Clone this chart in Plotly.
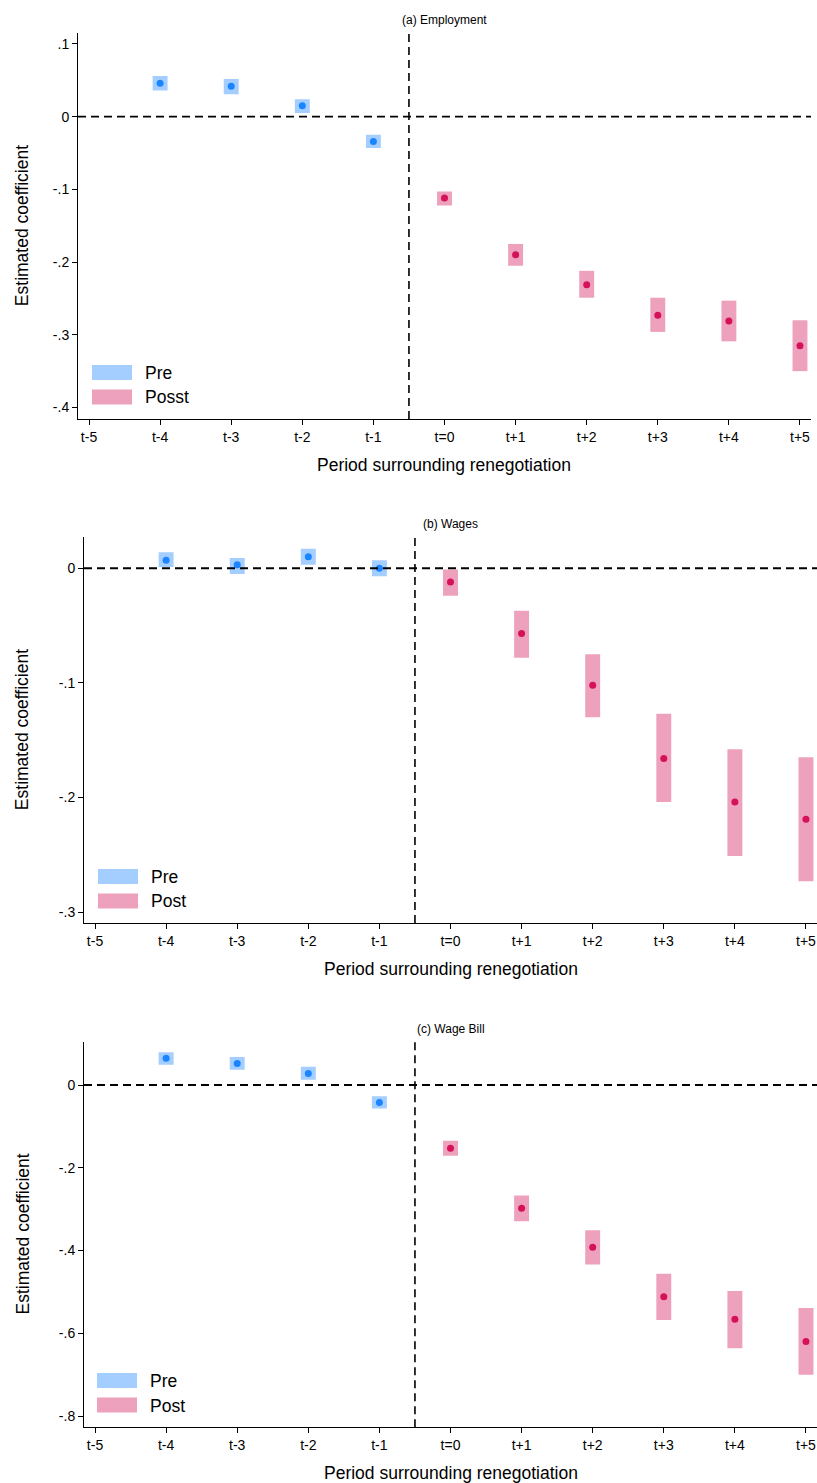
import plotly.graph_objects as go

W, H = 817, 1483

periods = ["t-5", "t-4", "t-3", "t-2", "t-1", "t=0", "t+1", "t+2", "t+3", "t+4", "t+5"]
est_periods = periods[1:]
n_pre = 4

# (a) Employment
emp_coef = [0.046, 0.042, 0.015, -0.034, -0.112, -0.190, -0.231, -0.273, -0.281, -0.315]
emp_lo = [0.036, 0.031, 0.005, -0.043, -0.122, -0.205, -0.249, -0.296, -0.309, -0.350]
emp_hi = [0.056, 0.052, 0.024, -0.025, -0.103, -0.175, -0.212, -0.249, -0.253, -0.280]

# (b) Wages
wage_coef = [0.007, 0.003, 0.010, 0.000, -0.012, -0.057, -0.102, -0.166, -0.204, -0.219]
wage_lo = [0.001, -0.005, 0.003, -0.007, -0.024, -0.078, -0.130, -0.204, -0.251, -0.273]
wage_hi = [0.014, 0.009, 0.017, 0.007, -0.001, -0.037, -0.075, -0.127, -0.158, -0.165]

# (c) Wage Bill
bill_coef = [0.065, 0.052, 0.028, -0.042, -0.153, -0.298, -0.392, -0.512, -0.566, -0.620]
bill_lo = [0.049, 0.037, 0.013, -0.057, -0.171, -0.329, -0.434, -0.568, -0.636, -0.700]
bill_hi = [0.079, 0.068, 0.044, -0.027, -0.135, -0.267, -0.351, -0.456, -0.498, -0.539]

emp_ticks = [0.1, 0, -0.1, -0.2, -0.3, -0.4]
emp_ticktext = [".1", "0", "-.1", "-.2", "-.3", "-.4"]
wage_ticks = [0, -0.1, -0.2, -0.3]
wage_ticktext = ["0", "-.1", "-.2", "-.3"]
bill_ticks = [0, -0.2, -0.4, -0.6, -0.8]
bill_ticktext = ["0", "-.2", "-.4", "-.6", "-.8"]

titles = ["(a) Employment", "(b) Wages", "(c) Wage Bill"]
legend_labels = [("Pre", "Posst"), ("Pre", "Post"), ("Pre", "Post")]

PRE_BOX = "rgb(164,206,255)"
PRE_DOT = "#1A85FF"
POST_BOX = "rgb(238,161,189)"
POST_DOT = "#D41159"
FONT = "Liberation Sans, Arial, sans-serif"

# layout geometry in pixels: (left, right, top, bottom)
panels = [
    dict(coef=emp_coef, lo=emp_lo, hi=emp_hi, ticks=emp_ticks, ticktext=emp_ticktext,
         px=(78, 811, 33.3, 419), yr=(-0.4158, 0.1147), leg=(92, 365), leg_text=legend_labels[0],
         xt=465),
    dict(coef=wage_coef, lo=wage_lo, hi=wage_hi, ticks=wage_ticks, ticktext=wage_ticktext,
         px=(84, 817, 537.3, 923), yr=(-0.3095, 0.027), leg=(98, 869), leg_text=legend_labels[1],
         xt=969),
    dict(coef=bill_coef, lo=bill_lo, hi=bill_hi, ticks=bill_ticks, ticktext=bill_ticktext,
         px=(84, 817, 1041.7, 1427.3), yr=(-0.8273, 0.1047), leg=(97, 1373), leg_text=legend_labels[2],
         xt=1473),
]


def fx(p):
    return p / W


def fy(p):
    return 1 - p / H


fig = go.Figure()
layout = dict(
    width=W, height=H, margin=dict(l=0, r=0, t=0, b=0),
    paper_bgcolor="white", plot_bgcolor="white", showlegend=False,
    barmode="overlay", font=dict(family=FONT, color="black"),
)
shapes = []
annotations = []

for i, p in enumerate(panels):
    k = "" if i == 0 else str(i + 1)
    xa, ya = "x" + k, "y" + k
    l, r, t, b = p["px"]
    for sl, box, dot in [(slice(0, n_pre), PRE_BOX, PRE_DOT), (slice(n_pre, None), POST_BOX, POST_DOT)]:
        xs = est_periods[sl]
        lo = p["lo"][sl]
        hi = p["hi"][sl]
        fig.add_trace(go.Bar(
            x=xs, y=[h - q for h, q in zip(hi, lo)], base=lo, width=0.21,
            marker=dict(color=box, line=dict(width=0)), xaxis=xa, yaxis=ya,
            hoverinfo="skip"))
        fig.add_trace(go.Scatter(
            x=xs, y=p["coef"][sl], mode="markers",
            marker=dict(color=dot, size=7), xaxis=xa, yaxis=ya))
    layout["xaxis" + k] = dict(
        domain=[fx(l), fx(r)], anchor=ya, type="category",
        categoryorder="array", categoryarray=periods,
        range=[-0.155, 10.155], showgrid=False, zeroline=False,
        showline=True, linecolor="black", linewidth=1,
        ticks="outside", ticklen=5, tickcolor="black",
        tickfont=dict(size=14, family=FONT), fixedrange=True)
    layout["yaxis" + k] = dict(
        domain=[fy(b), fy(t)], anchor=xa, range=list(p["yr"]),
        tickvals=p["ticks"], ticktext=p["ticktext"],
        showgrid=False, zeroline=False, showline=True, linecolor="black", linewidth=1,
        ticks="outside", ticklen=5, tickcolor="black",
        tickfont=dict(size=14, family=FONT), fixedrange=True)
    # reference lines
    shapes.append(dict(type="line", xref=xa + " domain", yref=ya, x0=0, x1=1, y0=0, y1=0,
                       line=dict(color="black", width=1.8, dash="8px,5px"), layer="above"))
    shapes.append(dict(type="line", xref=xa, yref=ya + " domain", x0=4.5, x1=4.5, y0=0, y1=1,
                       line=dict(color="black", width=1.6, dash="8px,5px"), layer="above"))
    # titles
    cx = (l + r) / 2
    annotations.append(dict(text=titles[i], x=fx(cx), y=fy(t - 13), xref="paper", yref="paper",
                            showarrow=False, font=dict(size=12, family=FONT),
                            xanchor="center", yanchor="middle"))
    annotations.append(dict(text="Estimated coefficient", x=fx(22), y=fy((t + b) / 2),
                            xref="paper", yref="paper", showarrow=False, textangle=-90,
                            font=dict(size=17.5, family=FONT), xanchor="center", yanchor="middle"))
    annotations.append(dict(text="Period surrounding renegotiation", x=fx(cx), y=fy(p["xt"]),
                            xref="paper", yref="paper", showarrow=False,
                            font=dict(size=17.5, family=FONT), xanchor="center", yanchor="middle"))
    # legend
    lx, ly = p["leg"]
    for j, col in enumerate([PRE_BOX, POST_BOX]):
        y0 = ly + j * 24.5
        shapes.append(dict(type="rect", xref="paper", yref="paper",
                           x0=fx(lx), x1=fx(lx + 40), y0=fy(y0 + 15), y1=fy(y0),
                           fillcolor=col, line=dict(width=0)))
        annotations.append(dict(text=p["leg_text"][j], x=fx(lx + 51), y=fy(y0 + 8),
                                xref="paper", yref="paper", showarrow=False,
                                font=dict(size=17.5, family=FONT), xanchor="left", yanchor="middle"))

layout["shapes"] = shapes
layout["annotations"] = annotations
fig.update_layout(**layout)
fig.write_html("out.html")
